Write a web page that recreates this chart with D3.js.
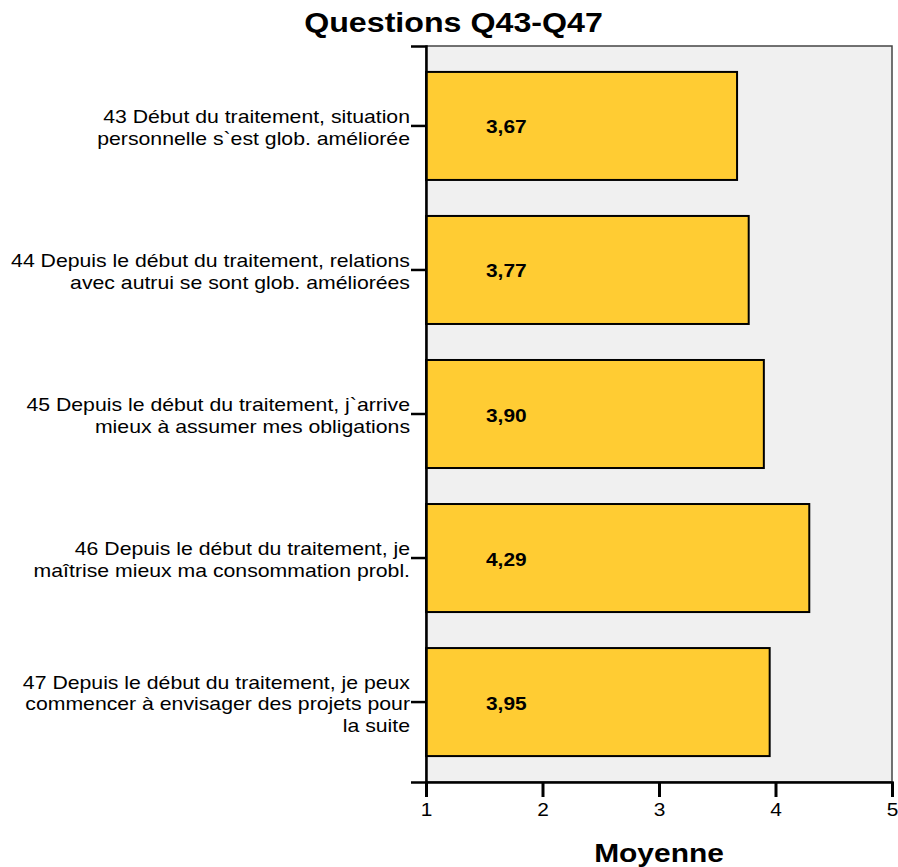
<!DOCTYPE html>
<html>
<head>
<meta charset="utf-8">
<script src="https://cdn.jsdelivr.net/npm/d3@7"></script>
<style>
  body { margin: 0; background: #fff; }
  text { font-family: "Liberation Sans", Arial, Helvetica, sans-serif; fill: #000; }
</style>
</head>
<body>
<div id="chart"></div>
<script>
// Data
var questions = ["Q43", "Q44", "Q45", "Q46", "Q47"];
var questionLabels = [
  ["43 Début du traitement, situation", "personnelle s`est glob. améliorée"],
  ["44 Depuis le début du traitement, relations", "avec autrui se sont glob. améliorées"],
  ["45 Depuis le début du traitement, j`arrive", "mieux à assumer mes obligations"],
  ["46 Depuis le début du traitement, je", "maîtrise mieux ma consommation probl."],
  ["47 Depuis le début du traitement, je peux", "commencer à envisager des projets pour", "la suite"]
];
var means = [3.67, 3.77, 3.90, 4.29, 3.95];
var xTicks = [1, 2, 3, 4, 5];
var chartTitle = "Questions Q43-Q47";
var xTitle = "Moyenne";

var svgWidth = 898;
var svgHeight = 867;

var margin = { top: 46, right: 6, bottom: 85, left: 426 };
var width = svgWidth - margin.left - margin.right;
var height = svgHeight - margin.top - margin.bottom;

// the source picture is stretched a little sideways, so text is too
var stretch = 1.13;

var svg = d3.select("#chart")
  .append("svg")
  .attr("width", svgWidth)
  .attr("height", svgHeight);

var chartGroup = svg.append("g")
  .attr("transform", `translate(${margin.left}, ${margin.top})`);

// scales
var xScale = d3.scaleLinear()
  .domain([1, 5])
  .range([0, width]);

var yScale = d3.scaleBand()
  .domain(questions)
  .range([0, height])
  .paddingInner(0.25)
  .paddingOuter(0.18);

var frFormat = d3.formatLocale({
  decimal: ",", thousands: " ", grouping: [3], currency: ["", " €"]
}).format(".2f");

function stretchedText(parent, x, y, str) {
  return parent.append("text")
    .attr("transform", `translate(${x}, ${y}) scale(${stretch}, 1)`)
    .text(str);
}

// plot background
chartGroup.append("rect")
  .attr("width", width)
  .attr("height", height)
  .attr("fill", "#f0f0f0")
  .attr("stroke", "#444")
  .attr("stroke-width", 1.5);

// bars
chartGroup.selectAll(".bar")
  .data(means)
  .enter()
  .append("rect")
  .attr("class", "bar")
  .attr("x", xScale(1))
  .attr("y", (d, i) => yScale(questions[i]))
  .attr("width", d => xScale(d) - xScale(1))
  .attr("height", yScale.bandwidth())
  .attr("fill", "#ffcc33")
  .attr("stroke", "#000")
  .attr("stroke-width", 2);

// value labels
means.forEach(function(d, i) {
  var cy = yScale(questions[i]) + yScale.bandwidth() / 2;
  stretchedText(chartGroup, 60, cy + 7.5, frFormat(d))
    .attr("font-size", "18.5px")
    .attr("font-weight", "bold");
});

// bottom axis
var bottomAxis = d3.axisBottom(xScale)
  .tickValues(xTicks)
  .tickSize(15)
  .tickPadding(4)
  .tickFormat(d3.format("d"));

var xAxisG = chartGroup.append("g")
  .attr("transform", `translate(0, ${height})`)
  .call(bottomAxis);
xAxisG.select(".domain").attr("stroke", "#000").attr("stroke-width", 2.5);
xAxisG.selectAll(".tick line").attr("stroke", "#000").attr("stroke-width", 3);
xAxisG.selectAll(".tick text")
  .attr("font-size", "18.5px")
  .attr("font-family", "Liberation Sans, Arial, sans-serif")
  .attr("fill", "#000")
  .attr("y", 0)
  .attr("dy", 0)
  .attr("transform", `translate(0, 34) scale(${stretch}, 1)`);

// left axis (ticks only, labels drawn below)
var leftAxis = d3.axisLeft(yScale)
  .tickSize(15)
  .tickFormat("");

var yAxisG = chartGroup.append("g").call(leftAxis);
yAxisG.select(".domain").attr("stroke", "#000").attr("stroke-width", 2.5);
yAxisG.selectAll(".tick line").attr("stroke", "#000").attr("stroke-width", 2.5);

// question labels
var lineHeight = 21.7;
questions.forEach(function(q, i) {
  var lines = questionLabels[i];
  var cy = yScale(q) + yScale.bandwidth() / 2;
  lines.forEach(function(line, j) {
    var y = cy + 8.3 + (j - (lines.length - 1) / 2) * lineHeight;
    stretchedText(chartGroup, -16, y, line)
      .attr("text-anchor", "end")
      .attr("font-size", "18.8px");
  });
});

// title
stretchedText(svg, 453.5, 31.5, chartTitle)
  .attr("text-anchor", "middle")
  .attr("font-size", "28.5px")
  .attr("font-weight", "bold");

// x axis title
stretchedText(chartGroup, width / 2, height + 80, xTitle)
  .attr("text-anchor", "middle")
  .attr("font-size", "26.5px")
  .attr("font-weight", "bold");
</script>
</body>
</html>
